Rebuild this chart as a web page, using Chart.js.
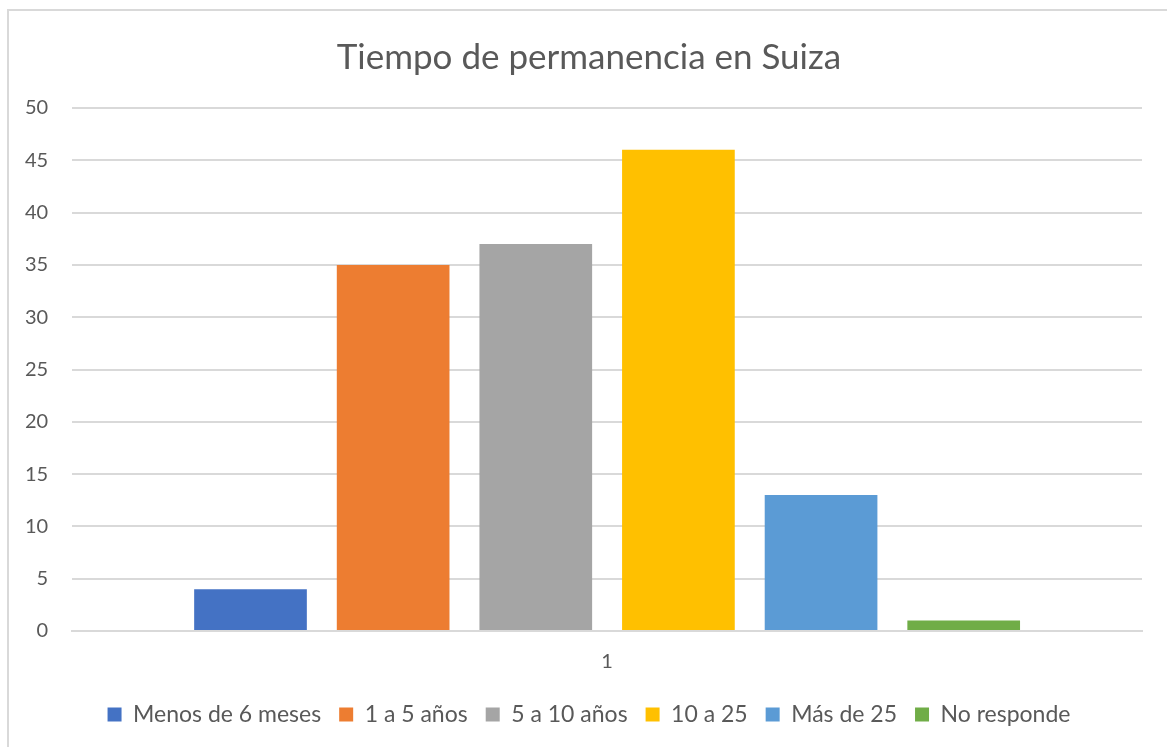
<!DOCTYPE html>
<html>
<head>
<meta charset="utf-8">
<script src="https://cdn.jsdelivr.net/npm/chart.js@4"></script>
<style>
  html, body { margin: 0; padding: 0; background: #fff; overflow: hidden; }
  #frame {
    position: absolute; left: 7px; top: 9px;
    width: 1170px; height: 750px;
    border: 2px solid #d9d9d9;
  }
  #wrap { position: absolute; left: 0; top: 0; width: 1190px; height: 747px; }
</style>
</head>
<body>
<div id="frame"></div>
<div id="wrap"><canvas id="chart"></canvas></div>
<script>
let categories = ["1"];
let seriesNames = ["Menos de 6 meses", "1 a 5 años", "5 a 10 años", "10 a 25", "Más de 25", "No responde"];
let seriesValues = [4, 35, 37, 46, 13, 1];
let seriesColors = ["#4472C4", "#ED7D31", "#A5A5A5", "#FFC000", "#5B9BD5", "#70AD47"];
let yTicks = [0, 5, 10, 15, 20, 25, 30, 35, 40, 45, 50];

let textColor = "#595959";
let fontName = "Lato";

let datasets = seriesNames.map((name, i) => ({
    label: name,
    data: [seriesValues[i]],
    backgroundColor: seriesColors[i],
    borderWidth: 0,
    categoryPercentage: 0.8,
    barPercentage: 0.79
}));

let ctx = document.getElementById('chart').getContext('2d');

let chart = new Chart(ctx, {
    type: 'bar',
    data: {
        labels: categories,
        datasets: datasets
    },
    options: {
        responsive: true,
        maintainAspectRatio: false,
        animation: false,
        layout: {
            padding: { left: 1, right: 13, top: 37, bottom: 11 }
        },
        plugins: {
            title: {
                display: true,
                text: "Tiempo de permanencia en Suiza",
                color: textColor,
                font: { family: fontName, size: 35, weight: 'normal' },
                padding: { top: 0, bottom: 29 }
            },
            legend: {
                position: 'bottom',
                labels: {
                    color: textColor,
                    font: { family: fontName, size: 23 },
                    boxWidth: 14,
                    boxHeight: 14,
                    padding: 18
                }
            },
            tooltip: { enabled: false }
        },
        scales: {
            x: {
                grid: { display: false },
                border: { color: "#d9d9d9", width: 2 },
                ticks: {
                    color: textColor,
                    font: { family: fontName, size: 20 },
                    padding: 11
                }
            },
            y: {
                min: yTicks[0],
                max: yTicks[yTicks.length - 1],
                afterBuildTicks: axis => { axis.ticks = yTicks.map(v => ({ value: v })); },
                grid: { color: "#d9d9d9", lineWidth: 2, drawTicks: false },
                border: { display: false },
                ticks: {
                    color: textColor,
                    font: { family: fontName, size: 20 },
                    padding: 24
                }
            },
            // empty right-hand space, the original frame is wider than the picture
            yRight: {
                position: 'right',
                min: 0,
                max: 50,
                grid: { display: false },
                border: { display: false },
                ticks: { display: false },
                afterFit: axis => { axis.width = 35; }
            }
        }
    }
});
</script>
</body>
</html>
